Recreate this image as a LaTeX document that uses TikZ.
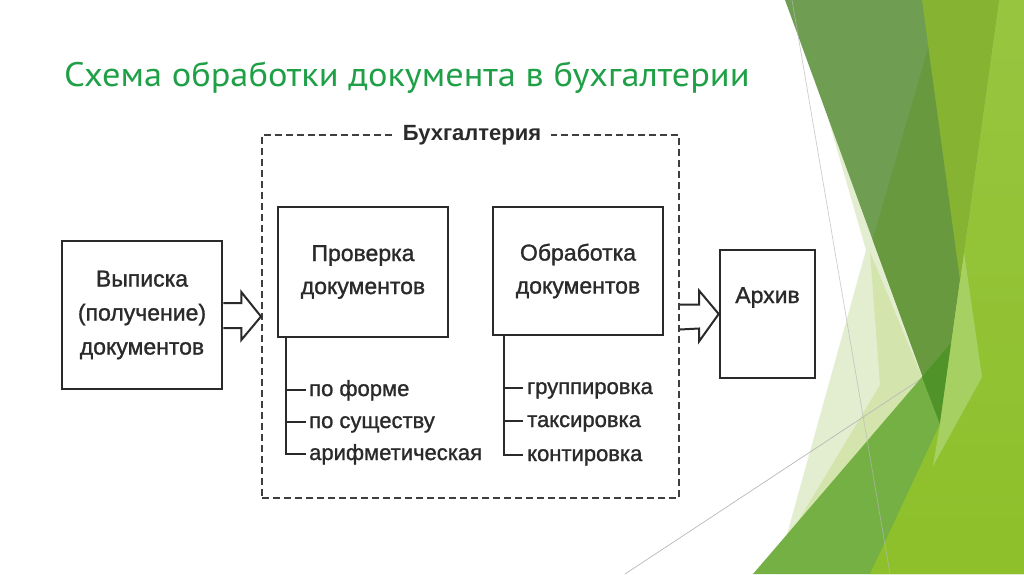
\documentclass[tikz,border=0pt]{standalone}
\usepackage{fontspec}
\setmainfont{Liberation Sans}
\newfontfamily\diagfont[FakeBold=1.2]{Liberation Sans}
\newfontfamily\titlefont[FakeStretch=1.07]{PT Sans}
\usetikzlibrary{calc}
\definecolor{titlegreen}{RGB}{31,160,71}
\definecolor{inkgray}{RGB}{42,42,42}
\definecolor{paleA}{RGB}{226,238,207}
\definecolor{paleB}{RGB}{211,229,173}
\definecolor{darkA}{RGB}{111,157,82}
\definecolor{darkB}{RGB}{104,153,63}
\definecolor{darkC}{RGB}{79,147,41}
\definecolor{bandG}{RGB}{116,176,68}
\definecolor{ygA}{RGB}{134,180,50}
\definecolor{ygTop}{RGB}{152,197,64}
\definecolor{ygBot}{RGB}{141,192,42}
\definecolor{ygLight}{RGB}{167,208,99}
\tikzset{
  box/.style={draw=inkgray, line width=2.6pt, align=center, inner sep=0pt,
    text=inkgray, font=\diagfont\fontsize{23}{33}\selectfont},
  dashbox/.style={draw=inkgray!90, line width=2pt, dash pattern=on 7pt off 4pt, inner sep=0pt},
  branch/.style={draw=inkgray, line width=1.8pt},
  item/.style={anchor=base west, inner sep=0pt, text=inkgray, font=\diagfont\fontsize{22}{26}\selectfont},
  blockarrow/.style={draw=inkgray, line width=2pt, line join=miter},
  thinline/.style={draw=gray!55, line width=0.7pt}
}
\begin{document}
\begin{tikzpicture}[x=1pt,y=-1pt]
\useasboundingbox (0,0) rectangle (1024,574);
\fill[white] (0,0) rectangle (1024,574);
% ---- decoration (right side) ----
\fill[paleA] (828,118) -- (866,250) -- (776,574) -- (1024,574) -- (1024,0) -- (900,0) -- cycle;
\fill[paleB] (870,252) -- (922,377) -- (794,528) -- (880,385) -- cycle;
\draw[thinline] (625,574) -- (1024,311);
\fill[bandG] (753,574) -- (922,377) -- (951,343) -- (1024,258) -- (1024,574) -- cycle;
\fill[darkA] (785,0) -- (999,0) -- (940,424) -- cycle;
\fill[darkB] (942,0) -- (999,0) -- (940,424) -- (872.7,239.8) -- cycle;
\fill[darkC] (922,377) -- (951,343) -- (940,424) -- cycle;
\shade[top color=ygTop, bottom color=ygBot] (999,0) -- (1024,0) -- (1024,574) -- (870,574) -- (940,424) -- cycle;
\fill[ygLight] (964,252) -- (982,377) -- (933,466) -- (940,424) -- cycle;
\fill[ygA] (922,0) -- (999,0) -- (960,280) -- cycle;
\draw[thinline, opacity=0.7] (792,0) -- (890,574);
% ---- title ----
\node[anchor=base west, inner sep=0pt, text=titlegreen, font=\titlefont\fontsize{34}{38}\selectfont] (title) at (64,86) {Схема обработки документа в бухгалтерии};
% ---- diagram ----
\node[dashbox, minimum width=417pt, minimum height=363pt] (buh) at (470.5,316.5) {};
\node[fill=white, inner xsep=10pt, inner ysep=2pt, text=inkgray, font=\bfseries\fontsize{22}{26}\selectfont] (buhlabel) at (472,135) {Бухгалтерия};
\node[box, minimum width=160pt, minimum height=148pt, font=\diagfont\fontsize{23}{34}\selectfont] (vyp) at (142,315) {Выписка\\(получение)\\документов};
\node[box, minimum width=170pt, minimum height=130pt] (prov) at (363,272) {Проверка\\документов};
\node[box, minimum width=170pt, minimum height=128pt] (obr) at (578,271) {Обработка\\документов};
\node[box, minimum width=95pt, minimum height=128pt, text height=17pt, text depth=39pt] (arx) at (767.5,314) {Архив};
% block arrows
\draw[blockarrow] ($(vyp.east)+(0,-12)$) -- ++(18,0) -- ++(0,-11) -- (buh.west) -- ($(vyp.east)+(18,25)$) -- ++(0,-12) -- ($(vyp.east)+(0,13)$);
\draw[blockarrow] ($(buh.east)+(0,-12)$) -- ++(19,0) -- ++(0,-14) -- (arx.west) -- ($(buh.east)+(19,25)$) -- ++(0,-13) -- ($(buh.east)+(0,13)$);
% branches under Проверка
\coordinate (p1) at (286,390);
\coordinate (p2) at (286,422);
\coordinate (p3) at (286,454);
\draw[branch] (prov.south -| p1) -- (p3) -- ++(20,0);
\draw[branch] (p1) -- ++(20,0);
\draw[branch] (p2) -- ++(20,0);
\node[item] (pf) at (309,396) {по форме};
\node[item] (ps) at (309,428) {по существу};
\node[item] (pa) at (309,460) {арифметическая};
% branches under Обработка
\coordinate (o1) at (504,388);
\coordinate (o2) at (504,421);
\coordinate (o3) at (504,455);
\draw[branch] (obr.south -| o1) -- (o3) -- ++(19,0);
\draw[branch] (o1) -- ++(19,0);
\draw[branch] (o2) -- ++(19,0);
\node[item] (og) at (527,394) {группировка};
\node[item] (ot) at (527,427) {таксировка};
\node[item] (ok) at (527,461) {контировка};
\end{tikzpicture}
\end{document}
